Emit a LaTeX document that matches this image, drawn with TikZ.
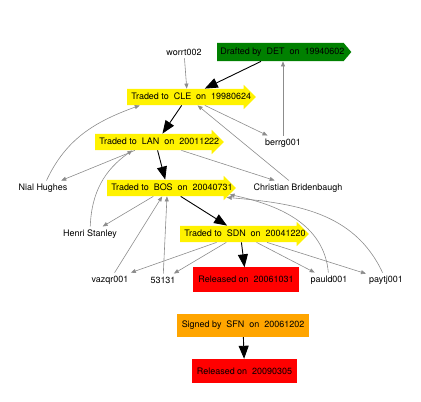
\documentclass[tikz,border=0pt]{standalone}
\usepackage{fontspec}
\setmainfont{TeX Gyre Heros}
\usetikzlibrary{shapes.arrows,arrows.meta}
\definecolor{gvorange}{RGB}{255,165,0}
\definecolor{gvgreen}{RGB}{0,128,0}
\newcommand{\movetext}[2][112bp]{\makebox[#1][l]{#2}}

\begin{document}
\begin{tikzpicture}[x=1bp,y=1bp,font=\fontsize{9}{10}\selectfont,
  trade/.style={single arrow,fill=yellow,anchor=tail,inner xsep=4bp,inner ysep=4bp,
    text height=6.5bp,text depth=1.5bp,single arrow head extend=4bp,single arrow tip angle=90},
  draft/.style={single arrow,fill=gvgreen,anchor=tail,inner xsep=3bp,inner ysep=5bp,
    text height=6.5bp,text depth=1.5bp,single arrow head extend=0bp,single arrow tip angle=100},
  release/.style={fill=red,minimum height=24bp,inner xsep=5bp},
  signing/.style={fill=gvorange,minimum height=23bp,inner xsep=5bp},
  player/.style={inner sep=3bp},
  link/.style={draw=black!45,line width=0.6bp,-{Triangle[length=5bp,width=4bp]}},
  move/.style={draw=black,line width=0.9bp,-{Triangle[length=13bp,width=10bp]}}]
  \useasboundingbox (0,0) rectangle (421,402);
  % transactions
  \node[draft] (det) at (217,350) {\movetext[120bp]{Drafted by~~DET~~on~~19940602}};
  \node[trade] (cle) at (127,305) {\movetext{Traded to~~CLE~~on~~19980624}};
  \node[trade] (lan) at (95,260) {\movetext{Traded to~~LAN~~on~~20011222}};
  \node[trade] (bos) at (107,214) {\movetext{Traded to~~BOS~~on~~20040731}};
  \node[trade] (sdn) at (180,168) {\movetext{Traded to~~SDN~~on~~20041220}};
  \node[release] (rel1) at (246,122.5) {Released on~~20061031};
  \node[signing] (sfn) at (243,76.5) {Signed by~~SFN~~on~~20061202};
  \node[release] (rel2) at (244.5,31) {Released on~~20090305};
  % players
  \node[player] (worrt) at (184,350) {worrt002};
  \node[player] (berrg) at (283,259) {berrg001};
  \node[player] (nial) at (43,214) {Nial Hughes};
  \node[player] (chris) at (298,214) {Christian Bridenbaugh};
  \node[player] (henri) at (90,168) {Henri Stanley};
  \node[player] (vazqr) at (110,122) {vazqr001};
  \node[player] (n53131) at (163,122) {53131};
  \node[player] (pauld) at (329,122) {pauld001};
  \node[player] (paytj) at (386,122) {paytj001};
  % career path
  \draw[move] (det) -- (cle);
  \draw[move] (cle) -- (lan.50);
  \draw[move] (lan) -- (bos);
  \draw[move] (bos) -- (sdn);
  \draw[move] (sdn) -- (rel1);
  \draw[move] (sfn) -- (rel2);
  % teammates
  \draw[link] (worrt) -- (cle);
  \draw[link] (berrg) -- (berrg |- det.270);
  \draw[link] (cle) -- (berrg);
  \draw[link] (nial) to[out=65,in=200] (cle.190);
  \draw[link] (chris) -- (cle);
  \draw[link] (lan) -- (nial);
  \draw[link] (henri) to[out=88,in=215] (lan.200);
  \draw[link] (lan) -- (chris);
  \draw[link] (bos) -- (henri);
  \draw[link] (vazqr) -- (bos);
  \draw[link] (n53131) -- (bos);
  \draw[link] (pauld) to[out=95,in=-12] (bos.-6);
  \draw[link] (paytj) to[out=115,in=-5] (bos.-9);
  \draw[link] (sdn) -- (vazqr);
  \draw[link] (sdn) -- (n53131);
  \draw[link] (sdn) -- (pauld);
  \draw[link] (sdn) -- (paytj);
\end{tikzpicture}
\end{document}
